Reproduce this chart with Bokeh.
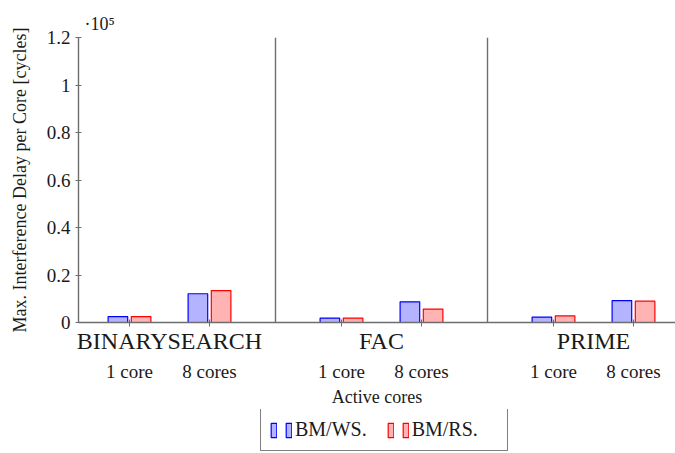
import numpy as np
from bokeh.plotting import figure
from bokeh.layouts import column
from bokeh.models import (LinearAxis, FixedTicker, Range1d, ColumnDataSource,
                          Legend, LegendItem, Title)
from bokeh.embed import file_html
from bokeh.resources import INLINE

# ---------------- data ----------------
benchmarks = ["BINARYSEARCH", "FAC", "PRIME"]
core_labels = ["1 core", "8 cores"]
series_names = ["BM/WS.", "BM/RS."]
# values in cycles, ordered benchmark x cores
bm_ws = [2500, 12100, 1850, 8700, 2270, 9250]
bm_rs = [2500, 13450, 1850, 5650, 2800, 9000]
y_ticks = [0, 0.2, 0.4, 0.6, 0.8, 1.0, 1.2]
y_tick_labels = ["0", "0.2", "0.4", "0.6", "0.8", "1", "1.2"]
y_exp = 5

# ---------------- layout constants ----------------
FONT = "Liberation Serif"
GROUP_W = 2.65
FIRST = 0.825
BAR_OFF = 0.145
BAR_W = 0.245
AX_COL = "#6e6e6e"
TXT = "#1a1a1a"
WS_FILL, WS_LINE = "#b3b3ff", "#0000ff"
RS_FILL, RS_LINE = "#ffb3b3", "#ff0000"

scale = 10 ** y_exp
g_idx = np.repeat(np.arange(len(benchmarks)), len(core_labels))
c_idx = np.tile(np.arange(len(core_labels)), len(benchmarks))
xc = g_idx * GROUP_W + FIRST + c_idx
group_centers = np.arange(len(benchmarks)) * GROUP_W + FIRST + (len(core_labels) - 1) / 2

src = ColumnDataSource(dict(
    xb=xc - BAR_OFF, xr=xc + BAR_OFF,
    ws=np.array(bm_ws) / scale, rs=np.array(bm_rs) / scale,
))

p = figure(width=675, height=409, output_backend="svg", toolbar_location=None,
           x_range=Range1d(0.1875, 7.65), y_range=Range1d(0, 1.2),
           x_axis_location=None, y_axis_location=None,
           min_border_left=78, min_border_right=0, min_border_top=37,
           min_border_bottom=86)
p.outline_line_color = None
for g in p.grid:
    g.visible = False

# exponent marker above the y axis
p.title = Title(text="·10⁵", align="left", offset=6, standoff=7,
                text_font=FONT, text_font_size="18px", text_font_style="normal",
                text_color=TXT)

# separators between benchmark groups
seps = [GROUP_W * (i + 1) for i in range(len(benchmarks) - 1)]
p.segment(x0=seps, y0=[0] * len(seps), x1=seps, y1=[y_ticks[-1]] * len(seps),
          line_color=AX_COL, line_width=1.4)

p.vbar(x="xb", top="ws", width=BAR_W, source=src,
       fill_color=WS_FILL, line_color=WS_LINE, line_width=1.2)
p.vbar(x="xr", top="rs", width=BAR_W, source=src,
       fill_color=RS_FILL, line_color=RS_LINE, line_width=1.2)

# y axis
yax = LinearAxis(ticker=FixedTicker(ticks=y_ticks),
                 major_label_overrides={t: l for t, l in zip(y_ticks, y_tick_labels)},
                 axis_label="Max. Interference Delay per Core [cycles]")
yax.axis_line_color = AX_COL
yax.axis_line_width = 1.4
yax.major_tick_line_color = AX_COL
yax.major_tick_in = 3
yax.major_tick_out = 3
yax.minor_tick_line_color = None
yax.major_label_text_font = FONT
yax.major_label_text_font_size = "19px"
yax.major_label_text_color = TXT
yax.major_label_standoff = 5
yax.axis_label_text_font = FONT
yax.axis_label_text_font_size = "18px"
yax.axis_label_text_font_style = "normal"
yax.axis_label_text_color = TXT
yax.axis_label_standoff = 14
p.add_layout(yax, "left")

# x axis 1: axis line, minor ticks at the core positions, benchmark names
xax1 = LinearAxis(ticker=FixedTicker(ticks=list(group_centers), minor_ticks=list(xc)),
                  major_label_overrides={float(c): n for c, n in zip(group_centers, benchmarks)})
xax1.axis_line_color = AX_COL
xax1.axis_line_width = 1.4
xax1.major_tick_line_color = None
xax1.minor_tick_line_color = AX_COL
xax1.minor_tick_in = 3
xax1.minor_tick_out = 4
xax1.major_tick_out = 0
xax1.major_tick_in = 0
xax1.major_label_text_font = FONT
xax1.major_label_text_font_size = "24px"
xax1.major_label_text_color = TXT
xax1.major_label_standoff = 1
p.add_layout(xax1, "below")

# x axis 2: core labels
xax2 = LinearAxis(ticker=FixedTicker(ticks=list(xc)),
                  major_label_overrides={float(x): core_labels[c] for x, c in zip(xc, c_idx)},
                  axis_label="Active cores")
xax2.axis_line_color = None
xax2.major_tick_line_color = None
xax2.minor_tick_line_color = None
xax2.major_tick_out = 0
xax2.major_tick_in = 0
xax2.major_label_text_font = FONT
xax2.major_label_text_font_size = "19px"
xax2.major_label_text_color = TXT
xax2.major_label_standoff = 4
xax2.axis_label_text_font = FONT
xax2.axis_label_text_font_size = "18px"
xax2.axis_label_text_font_style = "normal"
xax2.axis_label_text_color = TXT
xax2.axis_label_standoff = 2
p.add_layout(xax2, "below")

# ---------------- legend strip ----------------
# the strip's ranges keep its bars out of view; only the legend shows
lg = figure(width=675, height=44, output_backend="svg", toolbar_location=None,
            x_range=Range1d(100, 101), y_range=Range1d(100, 101),
            x_axis_location=None, y_axis_location=None,
            min_border_left=78, min_border_right=0, min_border_top=0,
            min_border_bottom=0)
lg.outline_line_color = None
for g in lg.grid:
    g.visible = False
l_ws = lg.vbar(x="xb", top="ws", width=BAR_W, source=src,
               fill_color=WS_FILL, line_color=WS_LINE, line_width=1.2)
l_rs = lg.vbar(x="xr", top="rs", width=BAR_W, source=src,
               fill_color=RS_FILL, line_color=RS_LINE, line_width=1.2)

legend = Legend(items=[
    LegendItem(label="", renderers=[l_ws]),
    LegendItem(label=series_names[0] + "   ", renderers=[l_ws]),
    LegendItem(label="", renderers=[l_rs]),
    LegendItem(label=series_names[1] + "    ", renderers=[l_rs]),
], orientation="horizontal", location=(182, 2))
legend.glyph_width = 7
legend.glyph_height = 18
legend.label_width = 0
legend.label_standoff = 3
legend.spacing = 5
legend.padding = 9
legend.margin = 0
legend.border_line_color = "black"
legend.border_line_width = 1.2
legend.label_text_font = FONT
legend.label_text_font_size = "20px"
legend.label_text_color = TXT
legend.background_fill_alpha = 1
lg.add_layout(legend, "center")

layout = column(p, lg, spacing=0)
open("out.html", "w").write(file_html(layout, INLINE))
